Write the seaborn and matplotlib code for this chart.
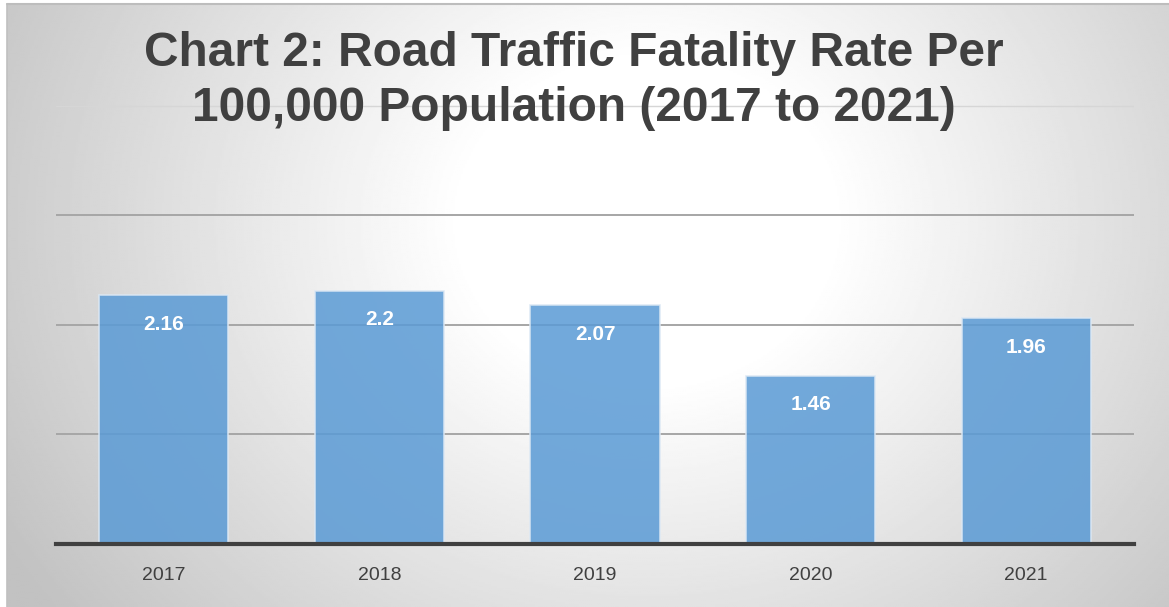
import numpy as np
import pandas as pd
import matplotlib
matplotlib.use('Agg')
import matplotlib.pyplot as plt
import seaborn as sns

# ─── DATA ─────────────────────────────────────────────────────────────────────
years = ["2017", "2018", "2019", "2020", "2021"]
rates = [2.16, 2.2, 2.07, 1.46, 1.96]
value_labels = ["2.16", "2.2", "2.07", "1.46", "1.96"]
TITLE = "Chart 2: Road Traffic Fatality Rate Per\n100,000 Population (2017 to 2021)"

df = pd.DataFrame({"year": years, "rate": rates})

sns.set_theme(style="white")
plt.rcParams['font.family'] = ['Liberation Sans', 'DejaVu Sans']

W, H, DPI = 1169, 607, 100
fig = plt.figure(figsize=(W / DPI, H / DPI), dpi=DPI)
fig.patch.set_facecolor("white")

# radial gradient background (chart area frame)
bg = fig.add_axes([7 / W, 0, 1 - 7 / W, 1 - 4 / H], zorder=0)
yy, xx = np.mgrid[0:300, 0:580]
r = np.sqrt((xx / 580 - 0.55) ** 2 + ((yy / 300 - 0.36) * 0.6) ** 2)
shade = np.clip(1.08 - 0.5 * r, 0.76, 1.0)
bg.imshow(shade, cmap="gray", vmin=0, vmax=1, aspect="auto", interpolation="bilinear")
bg.set_axis_off()
fig.add_artist(plt.Line2D([7 / W, 7 / W], [0, 1 - 4 / H], color="#c0c0c0", lw=1.2))
fig.add_artist(plt.Line2D([7 / W, 1], [1 - 4 / H, 1 - 4 / H], color="#bdbdbd", lw=1.5))

# ─── BARS ─────────────────────────────────────────────────────────────────────
ax = fig.add_axes([56 / W, 1 - 543.5 / H, (1134 - 56) / W, (543.5 - 100) / H], zorder=1)
ax.patch.set_alpha(0)
sns.barplot(data=df, x="year", y="rate", color="#5b9bd5", alpha=0.86, width=0.6,
            edgecolor="#dce8f4", linewidth=1.2, saturation=1, ax=ax, zorder=3)

ax.set_ylim(0, 443.5 / 115)
step = 109.5 / 115
ax.set_yticks([step * k for k in range(1, 5)])
ax.yaxis.grid(True, color="#a6a6a6", lw=1.4)
ax.get_ygridlines()[-1].set_color("#d6d6d6")
ax.get_ygridlines()[-1].set_linewidth(1.0)
ax.set_axisbelow(True)
ax.tick_params(axis="y", left=False, labelleft=False)
ax.tick_params(axis="x", bottom=False, labelsize=14, labelcolor="#404040", pad=11)
ax.set_xlabel("")
ax.set_ylabel("")
for s in ["left", "right", "top"]:
    ax.spines[s].set_visible(False)
ax.spines["bottom"].set_color("#404040")
ax.spines["bottom"].set_linewidth(3)
ax.spines["bottom"].set_zorder(5)

for p, lab in zip(ax.patches, value_labels):
    ax.annotate(lab, (p.get_x() + p.get_width() / 2, p.get_height()),
                xytext=(0, -21), textcoords="offset points", ha="center", va="center",
                color="white", fontsize=15, fontweight="bold", zorder=6)

fig.text(0.491, 1 - 81 / H, TITLE, ha="center", va="center", fontsize=34.5,
         fontweight="bold", color="#404040", linespacing=1.3, zorder=4)

fig.savefig("out.png", dpi=DPI)
